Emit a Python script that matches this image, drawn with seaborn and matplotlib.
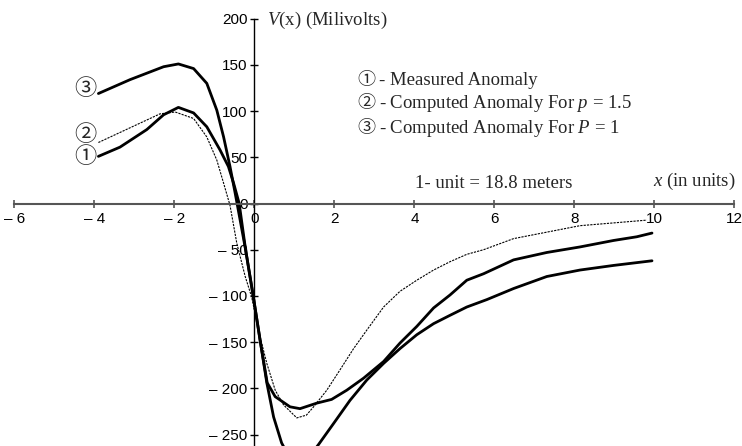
import matplotlib
matplotlib.use('Agg')
import matplotlib.pyplot as plt
import seaborn as sns

# curve 1 - measured anomaly
x_meas = [-3.9, -3.36, -2.69, -2.27, -1.9, -1.52, -1.19, -0.86, -0.65, -0.52, -0.38, -0.22,
          -0.03, 0.15, 0.32, 0.52, 0.89, 1.14, 1.56, 1.93, 2.31, 2.73, 3.23, 3.64, 4.06, 4.48,
          4.89, 5.31, 5.73, 6.48, 7.31, 8.14, 8.98, 9.56, 9.94]
y_meas = [51, 61, 80, 96, 104, 98, 83, 58, 40, 22, 0, -50,
          -100, -150, -194, -209, -220, -222, -216, -212, -202, -189, -171, -151, -133, -113,
          -99, -83, -76, -61, -53, -47, -40, -36, -32]

# curve 2 - computed, p = 1.5
x_p15 = [-3.9, -2.36, -1.98, -1.52, -1.19, -0.94, -0.77, -0.61, -0.44, -0.23, -0.07, 0.14,
         0.31, 0.52, 0.73, 1.06, 1.3, 1.48, 1.81, 2.14, 2.48, 2.81, 3.23, 3.64, 4.06, 4.48,
         4.89, 5.31, 5.73, 6.48, 7.31, 8.14, 8.98, 9.81]
y_p15 = [66, 97, 99, 92, 72, 47, 22, -2, -43, -79, -101, -144,
         -173, -202, -218, -232, -229, -220, -202, -180, -157, -137, -112, -95, -83, -72,
         -63, -55, -50, -38, -31, -24, -21, -18]

# curve 3 - computed, P = 1
x_p1 = [-3.9, -3.11, -2.27, -1.9, -1.52, -1.19, -0.94, -0.77, -0.61, -0.48, -0.22, -0.03,
        0.15, 0.31, 0.48, 0.68, 0.9, 1.15, 1.35, 1.6, 1.98, 2.39, 2.81, 3.23, 3.64, 4.06,
        4.48, 4.89, 5.31, 5.81, 6.48, 7.31, 8.14, 8.98, 9.94]
y_p1 = [119, 134, 148, 151, 146, 130, 101, 72, 40, 11, -50, -100,
        -150, -194, -231, -259, -277, -283, -275, -261, -238, -213, -191, -173, -157, -142,
        -130, -121, -112, -104, -92, -79, -72, -67, -62]

xticks = [-6, -4, -2, 0, 2, 4, 6, 8, 10, 12]
xticklabels = ['\u2013 6', '\u2013 4', '\u2013 2', '0', '2', '4', '6', '8', '10', '12']
yticks = [-250, -200, -150, -100, -50, 0, 50, 100, 150, 200]
yticklabels = ['\u2013 250', '\u2013 200', '\u2013 150', '\u2013 100', '\u2013 50',
               '0', '50', '100', '150', '200']

sns.set_style("ticks")
plt.rcParams['font.family'] = ['Liberation Sans', 'DejaVu Sans']
plt.rcParams['mathtext.fontset'] = 'custom'
plt.rcParams['mathtext.rm'] = 'Liberation Serif'
plt.rcParams['mathtext.it'] = 'Liberation Serif:italic'

fig = plt.figure(figsize=(7.42, 4.46), dpi=100)
ax = fig.add_axes([0, 0, 1, 1])
ax.patch.set_alpha(0)

sns.lineplot(x=x_meas, y=y_meas, ax=ax, color='black', lw=2.0, sort=False, estimator=None,
             solid_joinstyle='round')
sns.lineplot(x=x_p15, y=y_p15, ax=ax, color='black', lw=0.8, sort=False, estimator=None,
             linestyle=(0, (2, 1)))
sns.lineplot(x=x_p1, y=y_p1, ax=ax, color='black', lw=2.0, sort=False, estimator=None,
             solid_joinstyle='round')

ax.set_xlim(-6.36, 12.19)
ax.set_ylim(-262.4, 220.2)
for s in ['top', 'right']:
    ax.spines[s].set_visible(False)
ax.spines['left'].set_position(('data', 0))
ax.spines['bottom'].set_position(('data', 0))
ax.spines['bottom'].set_bounds(-6, 12)
ax.spines['left'].set_bounds(-262.4, 200)
ax.spines['bottom'].set_color('#555555')
ax.spines['bottom'].set_linewidth(1.5)
ax.spines['left'].set_color('black')
ax.spines['left'].set_linewidth(1.0)

ax.set_xticks(xticks)
ax.set_xticklabels(xticklabels)
ax.set_yticks(yticks)
ax.set_yticklabels(yticklabels)
ax.tick_params(axis='both', direction='inout', length=6, labelsize=11, labelcolor='black')
ax.tick_params(axis='x', color='#555555', width=1.2, pad=3)
ax.tick_params(axis='y', color='black', width=1.0, pad=2)

serif = ['Liberation Serif', 'Noto Sans CJK JP', 'DejaVu Sans']
# circled numbers at the start of each curve
ax.text(-4.23, 123.6, '\u2462', family=serif, fontsize=16, ha='center', va='center')
ax.text(-4.23, 73.5, '\u2461', family=serif, fontsize=16, ha='center', va='center')
ax.text(-4.23, 49.5, '\u2460', family=serif, fontsize=16, ha='center', va='center')

# key
key_y = [132.6, 108.4, 81.4]
key_num = ['\u2460', '\u2461', '\u2462']
key_txt = ['- Measured Anomaly',
           '- Computed Anomaly For $p$ = 1.5',
           '- Computed Anomaly For $P$ = 1']
for yy, n, t in zip(key_y, key_num, key_txt):
    ax.text(2.57, yy, n, family=serif, fontsize=13, ha='left', va='center')
    ax.text(3.12, yy, t, family=serif, fontsize=13.5, ha='left', va='center')

ax.text(5.97, 21.8, '1- unit = 18.8 meters', family=serif, fontsize=13.5,
        ha='center', va='center')
ax.text(9.97, 24, '$x$ (in units)', family=serif, fontsize=13.5, ha='left', va='center')
ax.text(0.31, 198.6, '$V$(x) (Milivolts)', family=serif, fontsize=13.5,
        ha='left', va='center')

fig.savefig('out.png', dpi=100)
